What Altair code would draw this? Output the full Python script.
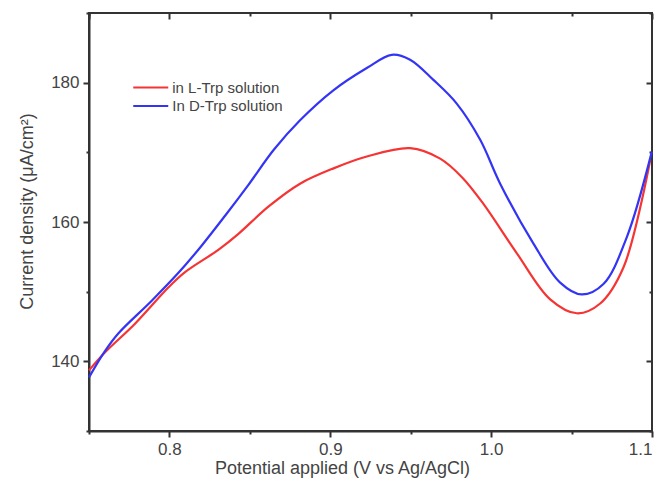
import altair as alt
import pandas as pd

# ---- data ----
l_trp_x = [0.750, 0.760, 0.7786, 0.7993, 0.8097, 0.8304, 0.8429, 0.8615, 0.8812, 0.902,
           0.9227, 0.9496, 0.9683, 0.982, 0.9952, 1.016, 1.0367, 1.0533, 1.0678,
           1.0823, 1.0989]
l_trp_y = [138.7, 141.3, 145.4, 150.6, 152.8, 156.0, 158.3, 162.2, 165.5, 167.7,
           169.4, 170.6, 169.1, 166.4, 162.6, 155.5, 148.9, 146.9, 148.3,
           153.5, 168.9]

d_trp_x = [0.750, 0.760, 0.7682, 0.789, 0.8056, 0.82, 0.8346, 0.849, 0.865, 0.8812, 0.9019,
           0.9227, 0.9382, 0.9496, 0.9641, 0.9786, 0.9932, 1.0056, 1.0263, 1.0429, 1.0563,
           1.0698, 1.0843, 1.0999]
d_trp_y = [137.7, 141.5, 144.0, 148.7, 152.7, 156.6, 160.9, 165.3, 170.4, 174.6, 178.9,
           182.1, 184.0, 183.3, 180.4, 177.0, 171.8, 165.5, 156.9, 151.3, 149.6,
           151.1, 157.8, 170.1]

series_names = ["in L-Trp solution", "In D-Trp solution"]
series_colors = ["#f53434", "#3434f5"]

x_major = [0.8, 0.9, 1.0, 1.1]
x_minor = [0.75, 0.85, 0.95, 1.05]
y_major = [140, 160, 180]
y_minor = [130, 150, 170, 190]
x_domain = [0.75, 1.1]
y_domain = [130, 190]

x_title = "Potential applied (V vs Ag/AgCl)"
y_title = "Current density (μA/cm²)"

rows = []
for xv, yv in zip(l_trp_x, l_trp_y):
    rows.append({"x": xv, "y": yv, "series": series_names[0]})
for xv, yv in zip(d_trp_x, d_trp_y):
    rows.append({"x": xv, "y": yv, "series": series_names[1]})
df = pd.DataFrame(rows)

FONT = "Liberation Sans"
AX = "#333333"
TXT = "#444444"

xs = alt.Scale(domain=x_domain, nice=False, zero=False)
ys = alt.Scale(domain=y_domain, nice=False, zero=False)

def hidden_axis(orient, values, size, offset):
    return alt.Axis(orient=orient, values=values, tickSize=size, offset=offset,
                    tickWidth=2, tickColor=AX, labels=False, domain=False,
                    grid=False, title=None)

base = alt.Chart(df)

lines = base.mark_line(strokeWidth=2.2, interpolate="catmull-rom").encode(
    x=alt.X("x:Q", scale=xs, axis=alt.Axis(
        orient="bottom", values=x_major, format=".1f", tickSize=6, tickWidth=2,
        tickColor=AX, domainColor=AX, domainWidth=2, grid=False,
        labelFont=FONT, labelFontSize=17, labelColor=TXT, labelPadding=4,
        labelFlush=True, labelOverlap=False,
        title=x_title, titleFont=FONT, titleFontSize=18, titleFontWeight="normal",
        titleColor=TXT, titlePadding=2, titleX=253)),
    y=alt.Y("y:Q", scale=ys, axis=alt.Axis(
        orient="left", values=y_major, tickSize=6, tickWidth=2,
        tickColor=AX, domainColor=AX, domainWidth=2, grid=False,
        labelFont=FONT, labelFontSize=17, labelColor=TXT, labelPadding=4,
        labelFlush=False, labelOverlap=False,
        title=y_title, titleFont=FONT, titleFontSize=18, titleFontWeight="normal",
        titleColor=TXT, titlePadding=14, titleY=198)),
    color=alt.Color("series:N", sort=series_names,
                    scale=alt.Scale(domain=series_names, range=series_colors),
                    legend=alt.Legend(orient="none", legendX=51.75, legendY=64.5, title=None,
                                      symbolType="M-2,0H2", symbolSize=306,
                                      symbolStrokeWidth=2.2, labelFont=FONT,
                                      labelFontSize=15, labelColor=TXT, labelOffset=11.5,
                                      padding=0, rowPadding=0.5)),
    detail="series:N",
    order="x:Q",
)

minor_bl = base.mark_point(opacity=0).encode(
    x=alt.X("x:Q", scale=xs, axis=hidden_axis("bottom", x_minor, 3, 0)),
    y=alt.Y("y:Q", scale=ys, axis=hidden_axis("left", y_minor, 3, 0)),
)
major_tr = base.mark_point(opacity=0).encode(
    x=alt.X("x:Q", scale=xs, axis=hidden_axis("top", x_major + [0.75], 6, -6)),
    y=alt.Y("y:Q", scale=ys, axis=hidden_axis("right", y_major, 6, -6)),
)
minor_tr = base.mark_point(opacity=0).encode(
    x=alt.X("x:Q", scale=xs, axis=hidden_axis("top", x_minor, 3, -3)),
    y=alt.Y("y:Q", scale=ys, axis=hidden_axis("right", y_minor, 3, -3)),
)

chart = alt.layer(lines, minor_bl, major_tr, minor_tr).resolve_axis(
    x="independent", y="independent"
).properties(
    width=563, height=418,
    autosize=alt.AutoSizeParams(type="none"),
    padding={"left": 81, "top": 5, "right": 3, "bottom": 47},
).configure_view(stroke=AX, strokeWidth=2)

chart.save("out.html", embed_options={"renderer": "svg", "actions": False})
